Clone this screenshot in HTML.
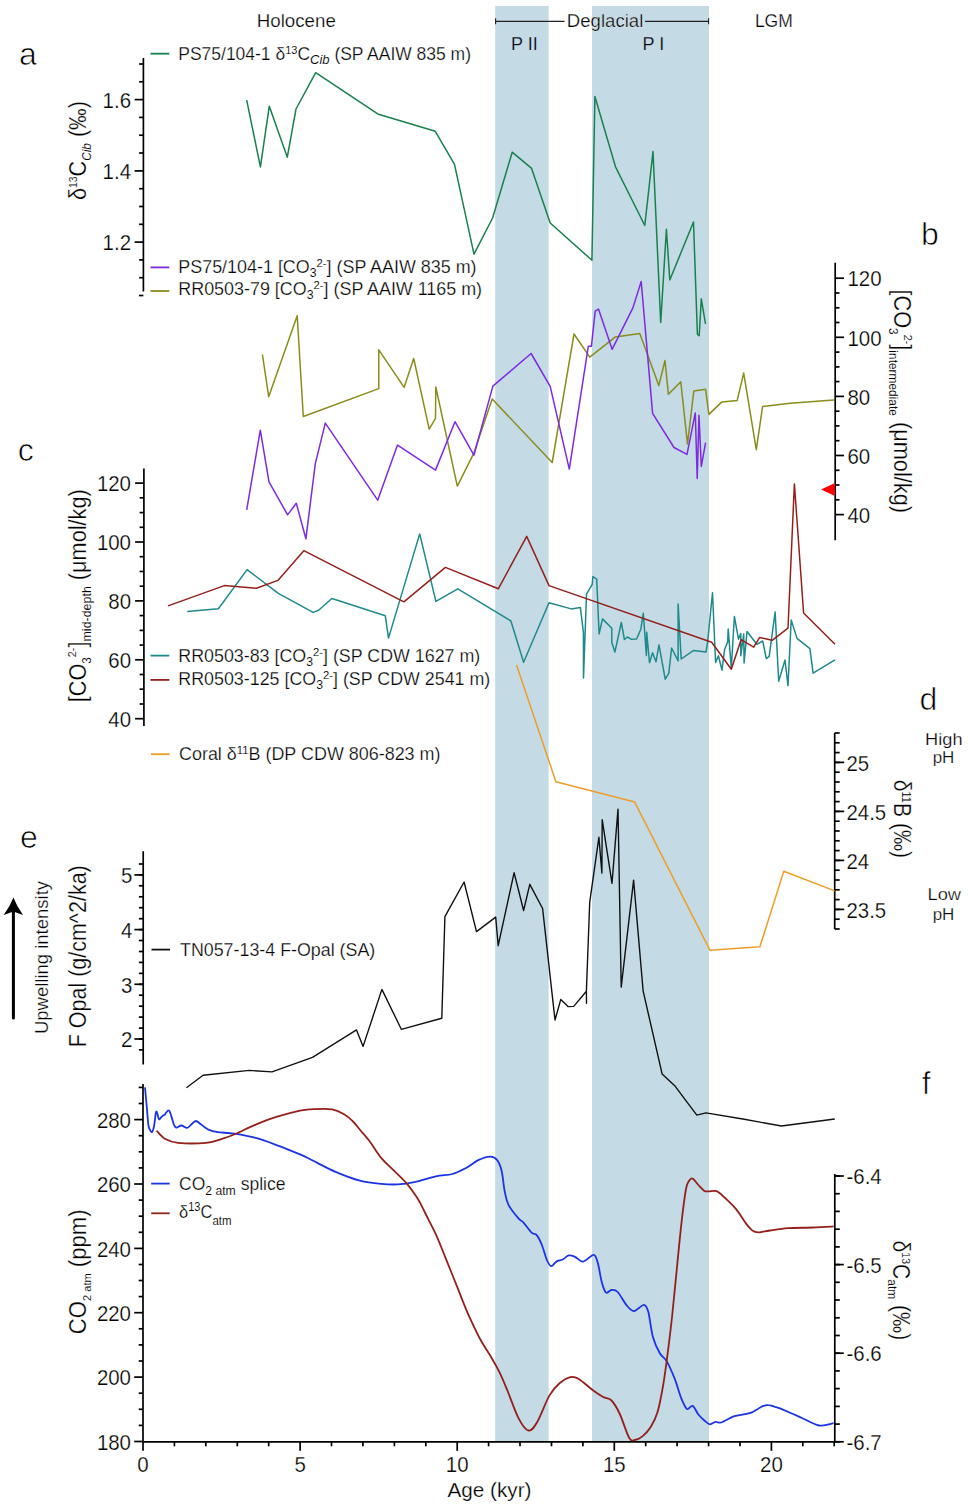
<!DOCTYPE html>
<html><head><meta charset="utf-8"><style>
html,body{margin:0;padding:0;background:#fff;}
svg{display:block;font-family:"Liberation Sans",sans-serif;}
text{stroke:#fff;stroke-width:0.25px;}
text.inb{stroke:#c4dae5;}
text.pl{stroke-width:0.7px;}
tspan[font-size]{stroke-width:0.1px;}
</style></head><body>
<svg width="968" height="1505" viewBox="0 0 968 1505">
<rect width="968" height="1505" fill="#fff"/>
<rect x="495.2" y="6" width="53.4" height="1436" fill="#c4dae5"/>
<rect x="592" y="6" width="117" height="1436" fill="#c4dae5"/>
<line x1="143.4" y1="58.0" x2="143.4" y2="291.5" stroke="#000" stroke-width="1.7"/>
<line x1="143.4" y1="99.6" x2="134.6" y2="99.6" stroke="#000" stroke-width="1.7"/>
<line x1="143.4" y1="170.9" x2="134.6" y2="170.9" stroke="#000" stroke-width="1.7"/>
<line x1="143.4" y1="242.1" x2="134.6" y2="242.1" stroke="#000" stroke-width="1.7"/>
<line x1="143.4" y1="64.0" x2="139.1" y2="64.0" stroke="#000" stroke-width="1.7"/>
<line x1="143.4" y1="81.8" x2="139.1" y2="81.8" stroke="#000" stroke-width="1.7"/>
<line x1="143.4" y1="117.4" x2="139.1" y2="117.4" stroke="#000" stroke-width="1.7"/>
<line x1="143.4" y1="135.2" x2="139.1" y2="135.2" stroke="#000" stroke-width="1.7"/>
<line x1="143.4" y1="153.0" x2="139.1" y2="153.0" stroke="#000" stroke-width="1.7"/>
<line x1="143.4" y1="188.7" x2="139.1" y2="188.7" stroke="#000" stroke-width="1.7"/>
<line x1="143.4" y1="206.5" x2="139.1" y2="206.5" stroke="#000" stroke-width="1.7"/>
<line x1="143.4" y1="224.3" x2="139.1" y2="224.3" stroke="#000" stroke-width="1.7"/>
<line x1="143.4" y1="259.9" x2="139.1" y2="259.9" stroke="#000" stroke-width="1.7"/>
<line x1="143.4" y1="277.7" x2="139.1" y2="277.7" stroke="#000" stroke-width="1.7"/>
<line x1="143.4" y1="295.5" x2="139.0" y2="295.5" stroke="#000" stroke-width="1.7"/>
<line x1="835.2" y1="262.7" x2="835.2" y2="540.3" stroke="#000" stroke-width="1.7"/>
<line x1="835.2" y1="278.2" x2="844.0" y2="278.2" stroke="#000" stroke-width="1.7"/>
<line x1="835.2" y1="337.3" x2="844.0" y2="337.3" stroke="#000" stroke-width="1.7"/>
<line x1="835.2" y1="396.4" x2="844.0" y2="396.4" stroke="#000" stroke-width="1.7"/>
<line x1="835.2" y1="455.5" x2="844.0" y2="455.5" stroke="#000" stroke-width="1.7"/>
<line x1="835.2" y1="514.6" x2="844.0" y2="514.6" stroke="#000" stroke-width="1.7"/>
<line x1="835.2" y1="293.0" x2="839.5" y2="293.0" stroke="#000" stroke-width="1.7"/>
<line x1="835.2" y1="307.8" x2="839.5" y2="307.8" stroke="#000" stroke-width="1.7"/>
<line x1="835.2" y1="322.5" x2="839.5" y2="322.5" stroke="#000" stroke-width="1.7"/>
<line x1="835.2" y1="352.1" x2="839.5" y2="352.1" stroke="#000" stroke-width="1.7"/>
<line x1="835.2" y1="366.9" x2="839.5" y2="366.9" stroke="#000" stroke-width="1.7"/>
<line x1="835.2" y1="381.6" x2="839.5" y2="381.6" stroke="#000" stroke-width="1.7"/>
<line x1="835.2" y1="411.2" x2="839.5" y2="411.2" stroke="#000" stroke-width="1.7"/>
<line x1="835.2" y1="425.9" x2="839.5" y2="425.9" stroke="#000" stroke-width="1.7"/>
<line x1="835.2" y1="440.7" x2="839.5" y2="440.7" stroke="#000" stroke-width="1.7"/>
<line x1="835.2" y1="470.3" x2="839.5" y2="470.3" stroke="#000" stroke-width="1.7"/>
<line x1="835.2" y1="485.0" x2="839.5" y2="485.0" stroke="#000" stroke-width="1.7"/>
<line x1="835.2" y1="499.8" x2="839.5" y2="499.8" stroke="#000" stroke-width="1.7"/>
<line x1="143.9" y1="468.4" x2="143.9" y2="726.0" stroke="#000" stroke-width="1.7"/>
<line x1="143.9" y1="483.1" x2="135.1" y2="483.1" stroke="#000" stroke-width="1.7"/>
<line x1="143.9" y1="542.0" x2="135.1" y2="542.0" stroke="#000" stroke-width="1.7"/>
<line x1="143.9" y1="600.9" x2="135.1" y2="600.9" stroke="#000" stroke-width="1.7"/>
<line x1="143.9" y1="659.8" x2="135.1" y2="659.8" stroke="#000" stroke-width="1.7"/>
<line x1="143.9" y1="718.7" x2="135.1" y2="718.7" stroke="#000" stroke-width="1.7"/>
<line x1="143.9" y1="497.8" x2="139.6" y2="497.8" stroke="#000" stroke-width="1.7"/>
<line x1="143.9" y1="512.6" x2="139.6" y2="512.6" stroke="#000" stroke-width="1.7"/>
<line x1="143.9" y1="527.3" x2="139.6" y2="527.3" stroke="#000" stroke-width="1.7"/>
<line x1="143.9" y1="556.7" x2="139.6" y2="556.7" stroke="#000" stroke-width="1.7"/>
<line x1="143.9" y1="571.5" x2="139.6" y2="571.5" stroke="#000" stroke-width="1.7"/>
<line x1="143.9" y1="586.2" x2="139.6" y2="586.2" stroke="#000" stroke-width="1.7"/>
<line x1="143.9" y1="615.6" x2="139.6" y2="615.6" stroke="#000" stroke-width="1.7"/>
<line x1="143.9" y1="630.4" x2="139.6" y2="630.4" stroke="#000" stroke-width="1.7"/>
<line x1="143.9" y1="645.1" x2="139.6" y2="645.1" stroke="#000" stroke-width="1.7"/>
<line x1="143.9" y1="674.5" x2="139.6" y2="674.5" stroke="#000" stroke-width="1.7"/>
<line x1="143.9" y1="689.2" x2="139.6" y2="689.2" stroke="#000" stroke-width="1.7"/>
<line x1="143.9" y1="704.0" x2="139.6" y2="704.0" stroke="#000" stroke-width="1.7"/>
<line x1="834.7" y1="733.0" x2="834.7" y2="929.0" stroke="#000" stroke-width="1.7"/>
<line x1="834.7" y1="762.4" x2="844.2" y2="762.4" stroke="#000" stroke-width="1.7"/>
<line x1="834.7" y1="811.4" x2="844.2" y2="811.4" stroke="#000" stroke-width="1.7"/>
<line x1="834.7" y1="860.4" x2="844.2" y2="860.4" stroke="#000" stroke-width="1.7"/>
<line x1="834.7" y1="909.4" x2="844.2" y2="909.4" stroke="#000" stroke-width="1.7"/>
<line x1="834.7" y1="733.0" x2="839.7" y2="733.0" stroke="#000" stroke-width="1.7"/>
<line x1="834.7" y1="742.8" x2="839.7" y2="742.8" stroke="#000" stroke-width="1.7"/>
<line x1="834.7" y1="752.6" x2="839.7" y2="752.6" stroke="#000" stroke-width="1.7"/>
<line x1="834.7" y1="762.4" x2="839.7" y2="762.4" stroke="#000" stroke-width="1.7"/>
<line x1="834.7" y1="772.2" x2="839.7" y2="772.2" stroke="#000" stroke-width="1.7"/>
<line x1="834.7" y1="782.0" x2="839.7" y2="782.0" stroke="#000" stroke-width="1.7"/>
<line x1="834.7" y1="791.8" x2="839.7" y2="791.8" stroke="#000" stroke-width="1.7"/>
<line x1="834.7" y1="801.6" x2="839.7" y2="801.6" stroke="#000" stroke-width="1.7"/>
<line x1="834.7" y1="811.4" x2="839.7" y2="811.4" stroke="#000" stroke-width="1.7"/>
<line x1="834.7" y1="821.2" x2="839.7" y2="821.2" stroke="#000" stroke-width="1.7"/>
<line x1="834.7" y1="831.0" x2="839.7" y2="831.0" stroke="#000" stroke-width="1.7"/>
<line x1="834.7" y1="840.8" x2="839.7" y2="840.8" stroke="#000" stroke-width="1.7"/>
<line x1="834.7" y1="850.6" x2="839.7" y2="850.6" stroke="#000" stroke-width="1.7"/>
<line x1="834.7" y1="860.4" x2="839.7" y2="860.4" stroke="#000" stroke-width="1.7"/>
<line x1="834.7" y1="870.2" x2="839.7" y2="870.2" stroke="#000" stroke-width="1.7"/>
<line x1="834.7" y1="880.0" x2="839.7" y2="880.0" stroke="#000" stroke-width="1.7"/>
<line x1="834.7" y1="889.8" x2="839.7" y2="889.8" stroke="#000" stroke-width="1.7"/>
<line x1="834.7" y1="899.6" x2="839.7" y2="899.6" stroke="#000" stroke-width="1.7"/>
<line x1="834.7" y1="909.4" x2="839.7" y2="909.4" stroke="#000" stroke-width="1.7"/>
<line x1="834.7" y1="919.2" x2="839.7" y2="919.2" stroke="#000" stroke-width="1.7"/>
<line x1="834.7" y1="929.0" x2="839.7" y2="929.0" stroke="#000" stroke-width="1.7"/>
<line x1="143.2" y1="851.2" x2="143.2" y2="1064.5" stroke="#000" stroke-width="1.7"/>
<line x1="143.2" y1="874.9" x2="134.4" y2="874.9" stroke="#000" stroke-width="1.7"/>
<line x1="143.2" y1="929.6" x2="134.4" y2="929.6" stroke="#000" stroke-width="1.7"/>
<line x1="143.2" y1="984.3" x2="134.4" y2="984.3" stroke="#000" stroke-width="1.7"/>
<line x1="143.2" y1="1039.0" x2="134.4" y2="1039.0" stroke="#000" stroke-width="1.7"/>
<line x1="143.2" y1="864.0" x2="138.9" y2="864.0" stroke="#000" stroke-width="1.7"/>
<line x1="143.2" y1="874.9" x2="138.9" y2="874.9" stroke="#000" stroke-width="1.7"/>
<line x1="143.2" y1="885.8" x2="138.9" y2="885.8" stroke="#000" stroke-width="1.7"/>
<line x1="143.2" y1="896.8" x2="138.9" y2="896.8" stroke="#000" stroke-width="1.7"/>
<line x1="143.2" y1="907.7" x2="138.9" y2="907.7" stroke="#000" stroke-width="1.7"/>
<line x1="143.2" y1="918.7" x2="138.9" y2="918.7" stroke="#000" stroke-width="1.7"/>
<line x1="143.2" y1="929.6" x2="138.9" y2="929.6" stroke="#000" stroke-width="1.7"/>
<line x1="143.2" y1="940.5" x2="138.9" y2="940.5" stroke="#000" stroke-width="1.7"/>
<line x1="143.2" y1="951.5" x2="138.9" y2="951.5" stroke="#000" stroke-width="1.7"/>
<line x1="143.2" y1="962.4" x2="138.9" y2="962.4" stroke="#000" stroke-width="1.7"/>
<line x1="143.2" y1="973.4" x2="138.9" y2="973.4" stroke="#000" stroke-width="1.7"/>
<line x1="143.2" y1="984.3" x2="138.9" y2="984.3" stroke="#000" stroke-width="1.7"/>
<line x1="143.2" y1="995.2" x2="138.9" y2="995.2" stroke="#000" stroke-width="1.7"/>
<line x1="143.2" y1="1006.2" x2="138.9" y2="1006.2" stroke="#000" stroke-width="1.7"/>
<line x1="143.2" y1="1017.1" x2="138.9" y2="1017.1" stroke="#000" stroke-width="1.7"/>
<line x1="143.2" y1="1028.1" x2="138.9" y2="1028.1" stroke="#000" stroke-width="1.7"/>
<line x1="143.2" y1="1039.0" x2="138.9" y2="1039.0" stroke="#000" stroke-width="1.7"/>
<line x1="143.2" y1="1049.9" x2="138.9" y2="1049.9" stroke="#000" stroke-width="1.7"/>
<line x1="143.0" y1="1084.0" x2="143.0" y2="1441.8" stroke="#000" stroke-width="1.7"/>
<line x1="143.0" y1="1119.6" x2="134.2" y2="1119.6" stroke="#000" stroke-width="1.7"/>
<line x1="143.0" y1="1184.0" x2="134.2" y2="1184.0" stroke="#000" stroke-width="1.7"/>
<line x1="143.0" y1="1248.4" x2="134.2" y2="1248.4" stroke="#000" stroke-width="1.7"/>
<line x1="143.0" y1="1312.7" x2="134.2" y2="1312.7" stroke="#000" stroke-width="1.7"/>
<line x1="143.0" y1="1377.1" x2="134.2" y2="1377.1" stroke="#000" stroke-width="1.7"/>
<line x1="143.0" y1="1441.5" x2="134.2" y2="1441.5" stroke="#000" stroke-width="1.7"/>
<line x1="143.0" y1="1425.4" x2="138.7" y2="1425.4" stroke="#000" stroke-width="1.7"/>
<line x1="143.0" y1="1409.3" x2="138.7" y2="1409.3" stroke="#000" stroke-width="1.7"/>
<line x1="143.0" y1="1393.2" x2="138.7" y2="1393.2" stroke="#000" stroke-width="1.7"/>
<line x1="143.0" y1="1361.0" x2="138.7" y2="1361.0" stroke="#000" stroke-width="1.7"/>
<line x1="143.0" y1="1344.9" x2="138.7" y2="1344.9" stroke="#000" stroke-width="1.7"/>
<line x1="143.0" y1="1328.8" x2="138.7" y2="1328.8" stroke="#000" stroke-width="1.7"/>
<line x1="143.0" y1="1296.6" x2="138.7" y2="1296.6" stroke="#000" stroke-width="1.7"/>
<line x1="143.0" y1="1280.5" x2="138.7" y2="1280.5" stroke="#000" stroke-width="1.7"/>
<line x1="143.0" y1="1264.5" x2="138.7" y2="1264.5" stroke="#000" stroke-width="1.7"/>
<line x1="143.0" y1="1232.3" x2="138.7" y2="1232.3" stroke="#000" stroke-width="1.7"/>
<line x1="143.0" y1="1216.2" x2="138.7" y2="1216.2" stroke="#000" stroke-width="1.7"/>
<line x1="143.0" y1="1200.1" x2="138.7" y2="1200.1" stroke="#000" stroke-width="1.7"/>
<line x1="143.0" y1="1167.9" x2="138.7" y2="1167.9" stroke="#000" stroke-width="1.7"/>
<line x1="143.0" y1="1151.8" x2="138.7" y2="1151.8" stroke="#000" stroke-width="1.7"/>
<line x1="143.0" y1="1135.7" x2="138.7" y2="1135.7" stroke="#000" stroke-width="1.7"/>
<line x1="143.0" y1="1103.5" x2="138.7" y2="1103.5" stroke="#000" stroke-width="1.7"/>
<line x1="143.0" y1="1087.4" x2="138.7" y2="1087.4" stroke="#000" stroke-width="1.7"/>
<line x1="834.8" y1="1174.0" x2="834.8" y2="1441.8" stroke="#000" stroke-width="1.7"/>
<line x1="834.8" y1="1176.0" x2="843.8" y2="1176.0" stroke="#000" stroke-width="1.7"/>
<line x1="834.8" y1="1264.6" x2="843.8" y2="1264.6" stroke="#000" stroke-width="1.7"/>
<line x1="834.8" y1="1353.2" x2="843.8" y2="1353.2" stroke="#000" stroke-width="1.7"/>
<line x1="834.8" y1="1441.8" x2="843.8" y2="1441.8" stroke="#000" stroke-width="1.7"/>
<line x1="834.8" y1="1441.8" x2="839.8" y2="1441.8" stroke="#000" stroke-width="1.7"/>
<line x1="834.8" y1="1424.1" x2="839.8" y2="1424.1" stroke="#000" stroke-width="1.7"/>
<line x1="834.8" y1="1406.4" x2="839.8" y2="1406.4" stroke="#000" stroke-width="1.7"/>
<line x1="834.8" y1="1388.6" x2="839.8" y2="1388.6" stroke="#000" stroke-width="1.7"/>
<line x1="834.8" y1="1370.9" x2="839.8" y2="1370.9" stroke="#000" stroke-width="1.7"/>
<line x1="834.8" y1="1353.2" x2="839.8" y2="1353.2" stroke="#000" stroke-width="1.7"/>
<line x1="834.8" y1="1335.5" x2="839.8" y2="1335.5" stroke="#000" stroke-width="1.7"/>
<line x1="834.8" y1="1317.8" x2="839.8" y2="1317.8" stroke="#000" stroke-width="1.7"/>
<line x1="834.8" y1="1300.0" x2="839.8" y2="1300.0" stroke="#000" stroke-width="1.7"/>
<line x1="834.8" y1="1282.3" x2="839.8" y2="1282.3" stroke="#000" stroke-width="1.7"/>
<line x1="834.8" y1="1264.6" x2="839.8" y2="1264.6" stroke="#000" stroke-width="1.7"/>
<line x1="834.8" y1="1246.9" x2="839.8" y2="1246.9" stroke="#000" stroke-width="1.7"/>
<line x1="834.8" y1="1229.2" x2="839.8" y2="1229.2" stroke="#000" stroke-width="1.7"/>
<line x1="834.8" y1="1211.4" x2="839.8" y2="1211.4" stroke="#000" stroke-width="1.7"/>
<line x1="834.8" y1="1193.7" x2="839.8" y2="1193.7" stroke="#000" stroke-width="1.7"/>
<line x1="834.8" y1="1176.0" x2="839.8" y2="1176.0" stroke="#000" stroke-width="1.7"/>
<line x1="142.0" y1="1441.8" x2="835.5" y2="1441.8" stroke="#000" stroke-width="1.7"/>
<line x1="143.0" y1="1441.8" x2="143.0" y2="1450.8" stroke="#000" stroke-width="1.7"/>
<line x1="174.4" y1="1441.8" x2="174.4" y2="1446.3" stroke="#000" stroke-width="1.7"/>
<line x1="205.8" y1="1441.8" x2="205.8" y2="1446.3" stroke="#000" stroke-width="1.7"/>
<line x1="237.3" y1="1441.8" x2="237.3" y2="1446.3" stroke="#000" stroke-width="1.7"/>
<line x1="268.7" y1="1441.8" x2="268.7" y2="1446.3" stroke="#000" stroke-width="1.7"/>
<line x1="300.1" y1="1441.8" x2="300.1" y2="1450.8" stroke="#000" stroke-width="1.7"/>
<line x1="331.5" y1="1441.8" x2="331.5" y2="1446.3" stroke="#000" stroke-width="1.7"/>
<line x1="362.9" y1="1441.8" x2="362.9" y2="1446.3" stroke="#000" stroke-width="1.7"/>
<line x1="394.4" y1="1441.8" x2="394.4" y2="1446.3" stroke="#000" stroke-width="1.7"/>
<line x1="425.8" y1="1441.8" x2="425.8" y2="1446.3" stroke="#000" stroke-width="1.7"/>
<line x1="457.2" y1="1441.8" x2="457.2" y2="1450.8" stroke="#000" stroke-width="1.7"/>
<line x1="488.6" y1="1441.8" x2="488.6" y2="1446.3" stroke="#000" stroke-width="1.7"/>
<line x1="520.0" y1="1441.8" x2="520.0" y2="1446.3" stroke="#000" stroke-width="1.7"/>
<line x1="551.5" y1="1441.8" x2="551.5" y2="1446.3" stroke="#000" stroke-width="1.7"/>
<line x1="582.9" y1="1441.8" x2="582.9" y2="1446.3" stroke="#000" stroke-width="1.7"/>
<line x1="614.3" y1="1441.8" x2="614.3" y2="1450.8" stroke="#000" stroke-width="1.7"/>
<line x1="645.7" y1="1441.8" x2="645.7" y2="1446.3" stroke="#000" stroke-width="1.7"/>
<line x1="677.1" y1="1441.8" x2="677.1" y2="1446.3" stroke="#000" stroke-width="1.7"/>
<line x1="708.6" y1="1441.8" x2="708.6" y2="1446.3" stroke="#000" stroke-width="1.7"/>
<line x1="740.0" y1="1441.8" x2="740.0" y2="1446.3" stroke="#000" stroke-width="1.7"/>
<line x1="771.4" y1="1441.8" x2="771.4" y2="1450.8" stroke="#000" stroke-width="1.7"/>
<line x1="802.8" y1="1441.8" x2="802.8" y2="1446.3" stroke="#000" stroke-width="1.7"/>
<line x1="834.2" y1="1441.8" x2="834.2" y2="1446.3" stroke="#000" stroke-width="1.7"/>
<text x="131.0" y="107.8" font-size="21.5" text-anchor="end" fill="#000" textLength="28.4" lengthAdjust="spacingAndGlyphs">1.6</text>
<text x="131.0" y="179.1" font-size="21.5" text-anchor="end" fill="#000" textLength="28.4" lengthAdjust="spacingAndGlyphs">1.4</text>
<text x="131.0" y="250.3" font-size="21.5" text-anchor="end" fill="#000" textLength="28.4" lengthAdjust="spacingAndGlyphs">1.2</text>
<text x="847.5" y="286.4" font-size="21.5" text-anchor="start" fill="#000" textLength="34.1" lengthAdjust="spacingAndGlyphs">120</text>
<text x="847.5" y="345.5" font-size="21.5" text-anchor="start" fill="#000" textLength="34.1" lengthAdjust="spacingAndGlyphs">100</text>
<text x="847.5" y="404.6" font-size="21.5" text-anchor="start" fill="#000" textLength="22.7" lengthAdjust="spacingAndGlyphs">80</text>
<text x="847.5" y="463.7" font-size="21.5" text-anchor="start" fill="#000" textLength="22.7" lengthAdjust="spacingAndGlyphs">60</text>
<text x="847.5" y="522.8" font-size="21.5" text-anchor="start" fill="#000" textLength="22.7" lengthAdjust="spacingAndGlyphs">40</text>
<text x="131.0" y="491.3" font-size="21.5" text-anchor="end" fill="#000" textLength="34.1" lengthAdjust="spacingAndGlyphs">120</text>
<text x="131.0" y="550.2" font-size="21.5" text-anchor="end" fill="#000" textLength="34.1" lengthAdjust="spacingAndGlyphs">100</text>
<text x="131.0" y="609.1" font-size="21.5" text-anchor="end" fill="#000" textLength="22.7" lengthAdjust="spacingAndGlyphs">80</text>
<text x="131.0" y="668.0" font-size="21.5" text-anchor="end" fill="#000" textLength="22.7" lengthAdjust="spacingAndGlyphs">60</text>
<text x="131.0" y="726.9" font-size="21.5" text-anchor="end" fill="#000" textLength="22.7" lengthAdjust="spacingAndGlyphs">40</text>
<text x="846.5" y="770.6" font-size="21.5" text-anchor="start" fill="#000" textLength="22.7" lengthAdjust="spacingAndGlyphs">25</text>
<text x="846.5" y="819.6" font-size="21.5" text-anchor="start" fill="#000" textLength="39.7" lengthAdjust="spacingAndGlyphs">24.5</text>
<text x="846.5" y="868.6" font-size="21.5" text-anchor="start" fill="#000" textLength="22.7" lengthAdjust="spacingAndGlyphs">24</text>
<text x="846.5" y="917.6" font-size="21.5" text-anchor="start" fill="#000" textLength="39.7" lengthAdjust="spacingAndGlyphs">23.5</text>
<text x="132.5" y="883.1" font-size="21.5" text-anchor="end" fill="#000" textLength="11.4" lengthAdjust="spacingAndGlyphs">5</text>
<text x="132.5" y="937.8" font-size="21.5" text-anchor="end" fill="#000" textLength="11.4" lengthAdjust="spacingAndGlyphs">4</text>
<text x="132.5" y="992.5" font-size="21.5" text-anchor="end" fill="#000" textLength="11.4" lengthAdjust="spacingAndGlyphs">3</text>
<text x="132.5" y="1047.2" font-size="21.5" text-anchor="end" fill="#000" textLength="11.4" lengthAdjust="spacingAndGlyphs">2</text>
<text x="131.0" y="1127.8" font-size="21.5" text-anchor="end" fill="#000" textLength="34.1" lengthAdjust="spacingAndGlyphs">280</text>
<text x="131.0" y="1192.2" font-size="21.5" text-anchor="end" fill="#000" textLength="34.1" lengthAdjust="spacingAndGlyphs">260</text>
<text x="131.0" y="1256.6" font-size="21.5" text-anchor="end" fill="#000" textLength="34.1" lengthAdjust="spacingAndGlyphs">240</text>
<text x="131.0" y="1320.9" font-size="21.5" text-anchor="end" fill="#000" textLength="34.1" lengthAdjust="spacingAndGlyphs">220</text>
<text x="131.0" y="1385.3" font-size="21.5" text-anchor="end" fill="#000" textLength="34.1" lengthAdjust="spacingAndGlyphs">200</text>
<text x="131.0" y="1449.7" font-size="21.5" text-anchor="end" fill="#000" textLength="34.1" lengthAdjust="spacingAndGlyphs">180</text>
<text x="846.5" y="1184.2" font-size="21.5" text-anchor="start" fill="#000" textLength="35.2" lengthAdjust="spacingAndGlyphs">-6.4</text>
<text x="846.5" y="1272.8" font-size="21.5" text-anchor="start" fill="#000" textLength="35.2" lengthAdjust="spacingAndGlyphs">-6.5</text>
<text x="846.5" y="1361.4" font-size="21.5" text-anchor="start" fill="#000" textLength="35.2" lengthAdjust="spacingAndGlyphs">-6.6</text>
<text x="846.5" y="1450.0" font-size="21.5" text-anchor="start" fill="#000" textLength="35.2" lengthAdjust="spacingAndGlyphs">-6.7</text>
<text x="143.0" y="1472.0" font-size="21.5" text-anchor="middle" fill="#000" textLength="11.4" lengthAdjust="spacingAndGlyphs">0</text>
<text x="300.1" y="1472.0" font-size="21.5" text-anchor="middle" fill="#000" textLength="11.4" lengthAdjust="spacingAndGlyphs">5</text>
<text x="457.2" y="1472.0" font-size="21.5" text-anchor="middle" fill="#000" textLength="22.7" lengthAdjust="spacingAndGlyphs">10</text>
<text x="614.3" y="1472.0" font-size="21.5" text-anchor="middle" fill="#000" textLength="22.7" lengthAdjust="spacingAndGlyphs">15</text>
<text x="771.4" y="1472.0" font-size="21.5" text-anchor="middle" fill="#000" textLength="22.7" lengthAdjust="spacingAndGlyphs">20</text>
<polyline points="246.7,100.2 260.4,166.9 269.3,106.2 287.3,157.2 296.0,109.0 315.7,72.7 378.5,114.3 435.3,131.3 454.5,164.3 474.0,254.2 492.6,218.0 512.2,152.2 531.6,168.4 550.2,223.0 591.9,260.2 594.9,96.5 615.5,166.8 644.8,225.5 653.0,151.6 660.7,322.5 666.4,229.3 669.8,280.0 693.5,222.0 697.4,334.3 699.2,335.7 701.3,298.8 705.5,323.9" fill="none" stroke="rgb(25,128,78)" stroke-width="1.5" stroke-linejoin="round" />
<polyline points="262.4,354.5 268.7,396.7 297.2,315.7 303.3,416.5 378.8,388.6 378.8,349.8 404.1,387.4 413.7,358.5 429.2,429.1 435.5,418.3 435.8,387.0 457.3,486.1 473.5,453.9 492.2,399.0 552.2,462.5 574.0,334.0 589.8,357.2 615.4,336.9 639.8,333.6 658.8,385.6 665.0,360.5 668.4,394.3 680.8,381.8 687.5,444.1 693.8,391.1 705.6,389.3 708.9,414.4 721.9,401.9 737.2,400.4 743.7,373.1 756.3,449.7 762.6,406.4 790.2,403.2 833.9,399.9" fill="none" stroke="rgb(138,140,28)" stroke-width="1.5" stroke-linejoin="round" />
<polyline points="246.7,509.9 260.3,430.2 269.0,481.8 287.6,514.9 296.3,503.3 305.9,538.8 315.3,463.6 325.3,423.1 377.7,500.2 397.5,445.1 435.5,470.1 455.0,421.7 473.9,455.2 492.9,386.1 531.1,353.5 550.2,386.4 569.3,469.1 588.3,346.3 591.4,346.3 595.2,311.2 598.5,309.1 612.1,349.3 632.9,307.9 641.2,281.5 652.6,413.4 674.0,447.5 687.0,454.4 695.3,412.9 697.2,478.5 699.0,415.3 701.3,466.4 705.6,442.6" fill="none" stroke="rgb(126,42,226)" stroke-width="1.5" stroke-linejoin="round" />
<polyline points="187.2,611.5 218.4,608.7 247.1,569.6 278.3,593.4 313.1,612.4 318.6,610.2 331.9,598.5 385.3,615.8 388.5,638.1 419.7,533.9 435.9,601.4 457.8,588.8 510.9,621.0 523.6,662.2 549.0,602.7 571.3,608.9 580.4,607.6 583.4,632.3 583.5,677.9 586.5,594.1 592.2,584.3 592.9,576.5 596.7,579.1 599.1,633.9 602.5,618.9 611.8,628.2 611.8,642.6 614.9,652.1 621.3,622.5 624.4,639.5 627.3,637.0 631.5,639.3 636.6,639.0 640.8,629.2 643.3,613.2 646.4,655.6 646.7,632.3 649.5,662.8 652.6,652.8 656.0,661.8 659.0,644.9 665.2,679.2 668.8,673.3 671.6,648.0 678.1,660.9 678.1,604.1 681.2,659.0 693.6,650.4 706.0,652.1 707.7,641.3 712.5,592.7 715.6,662.5 718.4,655.7 722.0,670.2 724.6,649.5 727.7,641.8 728.2,628.9 731.3,668.1 734.4,616.5 738.5,639.2 740.8,633.5 740.8,655.7 743.7,634.0 744.1,663.0 747.0,631.5 756.8,644.3 762.7,641.0 766.3,658.6 769.2,656.4 775.1,612.1 778.7,681.3 785.0,660.0 788.0,685.6 791.2,619.9 797.0,638.4 809.9,648.7 813.1,673.2 835.0,659.8" fill="none" stroke="rgb(30,138,140)" stroke-width="1.5" stroke-linejoin="round" />
<polyline points="168.0,605.9 224.4,585.6 256.4,588.2 277.9,580.4 303.8,550.7 403.9,601.8 445.4,567.4 498.3,588.8 526.7,536.4 549.0,585.6 711.7,642.3 731.3,669.2 741.1,639.7 753.7,647.2 759.7,637.4 772.2,640.3 788.0,628.2 794.4,483.9 803.6,613.0 835.0,644.3" fill="none" stroke="rgb(148,32,28)" stroke-width="1.5" stroke-linejoin="round" />
<polyline points="516.5,664.9 555.9,781.7 634.7,802.1 710.0,950.3 759.9,946.8 783.8,871.3 834.7,890.9" fill="none" stroke="rgb(238,158,40)" stroke-width="1.5" stroke-linejoin="round" />
<polyline points="186.4,1087.8 203.1,1075.3 249.4,1070.4 272.0,1071.9 312.5,1057.4 356.5,1029.9 363.1,1046.4 381.9,989.4 401.3,1029.3 441.8,1018.2 444.9,916.7 464.1,882.0 476.5,931.6 495.7,917.1 498.2,945.7 514.1,872.7 523.6,910.5 529.8,884.3 542.6,908.5 555.0,1020.0 560.8,999.4 568.0,1006.6 573.7,1006.4 586.4,991.2 586.5,1003.3 586.4,991.2 589.7,902.3 598.9,837.3 601.9,873.1 602.2,819.7 612.0,883.3 618.0,809.1 621.2,987.1 633.6,880.1 643.1,990.8 662.1,1073.9 674.5,1085.4 696.8,1115.1 705.9,1112.9 742.8,1119.0 781.4,1126.0 834.8,1119.0" fill="none" stroke="#111" stroke-width="1.4" stroke-linejoin="round" />
<path d="M145.0,1087.4 C145.3,1090.3 146.0,1098.6 146.6,1104.8 C147.2,1111.0 147.8,1120.5 148.3,1124.6 C148.9,1128.7 149.3,1128.4 149.9,1129.6 C150.5,1130.8 151.4,1132.5 152.1,1132.0 C152.8,1131.5 153.3,1129.6 154.0,1126.3 C154.7,1123.0 155.4,1114.3 156.0,1112.2 C156.6,1110.1 156.9,1112.7 157.4,1113.9 C157.9,1115.1 158.4,1118.8 159.0,1119.3 C159.6,1119.8 160.5,1117.8 161.2,1117.2 C161.9,1116.6 162.5,1115.9 163.1,1115.5 C163.7,1115.1 164.3,1115.2 164.8,1114.7 C165.3,1114.2 165.4,1113.4 166.1,1112.7 C166.8,1112.0 168.0,1110.0 168.9,1110.6 C169.8,1111.2 170.6,1114.1 171.4,1116.4 C172.2,1118.7 173.1,1122.7 173.9,1124.6 C174.7,1126.5 175.2,1127.4 176.4,1127.6 C177.6,1127.8 179.5,1125.5 181.3,1125.5 C183.1,1125.5 185.4,1128.1 187.1,1127.9 C188.8,1127.8 189.7,1125.8 191.2,1124.6 C192.7,1123.4 194.2,1121.0 195.9,1121.0 C197.6,1121.0 199.2,1123.2 201.2,1124.6 C203.2,1126.0 205.1,1128.0 207.8,1129.3 C210.6,1130.5 213.3,1131.4 217.7,1132.1 C222.1,1132.8 227.9,1132.7 234.2,1133.7 C240.5,1134.7 248.5,1136.0 255.7,1137.9 C262.9,1139.8 269.8,1142.5 277.2,1145.3 C284.6,1148.0 294.1,1151.9 300.0,1154.4 C305.9,1156.9 306.8,1157.6 312.7,1160.5 C318.6,1163.4 327.6,1168.5 335.5,1171.8 C343.4,1175.1 352.2,1178.6 359.8,1180.6 C367.4,1182.6 375.0,1183.3 381.3,1183.9 C387.6,1184.5 392.4,1184.7 397.9,1184.4 C403.4,1184.1 408.1,1183.5 414.4,1182.2 C420.7,1180.9 429.6,1177.8 435.9,1176.4 C442.2,1175.0 447.4,1175.4 452.4,1174.0 C457.3,1172.6 461.2,1170.5 465.6,1168.2 C470.0,1165.9 474.7,1161.8 478.8,1159.9 C482.9,1158.0 487.4,1156.6 490.4,1156.6 C493.4,1156.6 495.1,1157.6 497.0,1159.9 C498.9,1162.2 500.3,1165.5 501.6,1170.7 C502.9,1175.9 503.5,1185.5 504.7,1191.3 C505.9,1197.1 506.4,1200.8 508.8,1205.4 C511.2,1210.1 516.8,1216.4 519.2,1219.2 C521.6,1222.0 521.2,1220.1 523.3,1222.3 C525.4,1224.5 529.4,1230.5 531.6,1232.6 C533.8,1234.7 535.0,1233.0 536.7,1235.1 C538.4,1237.2 540.2,1240.8 541.9,1245.0 C543.6,1249.2 545.5,1257.0 547.1,1260.5 C548.7,1264.0 549.7,1265.9 551.2,1266.1 C552.8,1266.3 554.5,1262.7 556.4,1261.6 C558.3,1260.5 560.5,1260.5 562.6,1259.5 C564.7,1258.5 566.7,1255.9 568.8,1255.4 C570.9,1255.0 572.6,1255.8 575.0,1256.8 C577.4,1257.8 580.1,1261.9 583.2,1261.6 C586.3,1261.3 591.2,1254.6 593.6,1254.8 C596.0,1255.0 596.3,1258.0 597.7,1262.6 C599.1,1267.2 600.4,1277.2 601.8,1282.2 C603.2,1287.2 604.4,1291.3 606.0,1292.6 C607.6,1293.9 609.5,1290.1 611.5,1290.0 C613.5,1289.9 615.2,1289.4 617.7,1292.0 C620.2,1294.6 624.1,1302.3 626.8,1305.5 C629.4,1308.7 631.5,1310.7 633.6,1311.1 C635.7,1311.5 637.5,1308.7 639.3,1307.7 C641.1,1306.7 643.0,1304.2 644.5,1305.0 C646.0,1305.8 647.0,1306.9 648.4,1312.3 C649.8,1317.7 651.1,1330.5 653.0,1337.3 C654.9,1344.1 657.5,1349.2 659.8,1353.2 C662.1,1357.2 664.1,1356.9 666.6,1361.1 C669.1,1365.3 672.0,1372.0 674.5,1378.2 C677.0,1384.5 679.3,1393.5 681.4,1398.6 C683.5,1403.7 685.1,1407.7 687.0,1408.9 C688.9,1410.1 690.8,1405.0 692.7,1405.9 C694.6,1406.8 696.5,1412.1 698.4,1414.5 C700.3,1416.9 702.2,1418.6 704.1,1420.2 C706.0,1421.8 707.9,1424.0 709.8,1424.3 C711.7,1424.6 713.6,1422.1 715.5,1421.8 C717.4,1421.5 718.1,1423.4 721.1,1422.5 C724.1,1421.6 729.6,1417.8 733.6,1416.4 C737.6,1415.0 741.9,1414.9 745.0,1414.2 C748.1,1413.5 750.0,1413.1 752.0,1412.3 C754.0,1411.5 755.3,1410.5 757.0,1409.5 C758.7,1408.5 760.2,1407.2 762.0,1406.5 C763.8,1405.8 765.8,1405.0 768.0,1405.1 C770.2,1405.1 773.0,1406.2 775.0,1406.8 C777.0,1407.3 775.9,1406.7 780.0,1408.4 C784.1,1410.1 793.0,1414.0 799.5,1416.8 C806.0,1419.6 813.2,1424.4 818.9,1425.5 C824.6,1426.6 831.1,1423.6 833.6,1423.2" fill="none" stroke="rgb(28,52,228)" stroke-width="1.8"/>
<path d="M156.5,1130.7 C157.9,1132.0 161.2,1136.7 164.8,1138.7 C168.4,1140.7 171.1,1142.1 178.0,1142.8 C184.9,1143.5 198.7,1143.5 206.1,1142.8 C213.5,1142.1 217.6,1140.2 222.6,1138.7 C227.6,1137.2 230.4,1136.1 235.9,1133.7 C241.4,1131.3 248.8,1127.4 255.7,1124.6 C262.6,1121.8 269.8,1119.0 277.2,1116.7 C284.6,1114.4 294.4,1111.8 300.0,1110.6 C305.6,1109.4 305.2,1109.5 310.5,1109.3 C315.8,1109.1 326.3,1108.4 332.0,1109.3 C337.7,1110.2 341.0,1112.5 344.5,1114.5 C348.0,1116.5 350.2,1118.8 353.0,1121.5 C355.8,1124.2 358.2,1127.7 361.0,1131.0 C363.8,1134.3 366.2,1136.8 369.6,1141.3 C373.0,1145.8 377.4,1153.2 381.2,1157.9 C385.0,1162.6 388.6,1165.3 392.7,1169.4 C396.8,1173.5 402.1,1178.2 406.0,1182.6 C409.9,1187.0 413.6,1192.6 415.9,1195.9 C418.2,1199.2 418.0,1198.9 420.0,1202.7 C422.0,1206.5 425.3,1213.3 428.0,1218.6 C430.7,1223.9 433.6,1229.3 436.0,1234.6 C438.4,1239.9 440.2,1244.5 442.6,1250.5 C445.0,1256.5 447.9,1263.8 450.6,1270.5 C453.3,1277.2 456.0,1283.8 458.6,1290.4 C461.2,1297.1 464.1,1304.6 466.5,1310.4 C468.9,1316.2 470.8,1319.9 473.2,1325.0 C475.6,1330.1 478.1,1335.5 481.2,1341.0 C484.3,1346.5 488.7,1352.9 491.8,1358.2 C494.9,1363.5 497.1,1367.4 499.8,1372.9 C502.5,1378.5 504.7,1384.0 507.8,1391.5 C510.9,1399.0 515.1,1411.6 518.5,1418.1 C521.9,1424.6 525.3,1429.8 528.4,1430.5 C531.5,1431.2 533.6,1428.0 537.1,1422.2 C540.6,1416.4 545.7,1401.9 549.5,1395.4 C553.3,1388.9 556.3,1386.0 559.8,1383.0 C563.2,1380.0 567.1,1377.9 570.2,1377.2 C573.3,1376.5 574.6,1376.6 578.4,1378.8 C582.2,1381.0 588.8,1387.2 592.9,1390.2 C597.0,1393.2 600.1,1395.3 603.2,1397.0 C606.3,1398.7 608.7,1397.7 611.5,1400.5 C614.3,1403.3 616.9,1407.8 619.8,1414.0 C622.7,1420.2 626.6,1433.4 629.1,1437.7 C631.6,1442.0 632.5,1440.3 634.8,1440.0 C637.1,1439.7 640.1,1438.3 642.7,1436.1 C645.4,1433.9 648.2,1431.0 650.7,1427.0 C653.2,1423.0 655.4,1419.3 657.5,1412.3 C659.6,1405.3 661.5,1394.8 663.2,1385.0 C664.9,1375.2 666.2,1365.0 667.7,1353.2 C669.2,1341.5 670.8,1328.5 672.3,1314.5 C673.8,1300.5 675.3,1284.2 676.8,1269.1 C678.3,1253.9 679.9,1236.9 681.4,1223.6 C682.9,1210.3 684.6,1196.7 685.9,1189.5 C687.2,1182.3 688.2,1182.3 689.3,1180.5 C690.4,1178.7 691.2,1177.8 692.7,1178.6 C694.2,1179.3 696.5,1183.0 698.4,1185.0 C700.3,1187.0 702.4,1189.6 704.1,1190.7 C705.8,1191.8 706.5,1191.3 708.6,1191.4 C710.7,1191.5 714.0,1190.1 716.6,1191.1 C719.2,1192.1 721.3,1194.5 724.5,1197.5 C727.7,1200.5 732.3,1204.6 735.9,1208.9 C739.5,1213.2 743.7,1220.3 746.1,1223.6 C748.5,1226.9 749.1,1227.4 750.5,1228.8 C751.9,1230.2 753.1,1231.1 754.5,1231.7 C755.9,1232.3 757.2,1232.4 758.6,1232.4 C760.0,1232.4 761.1,1231.9 763.0,1231.6 C764.9,1231.3 765.8,1231.1 770.0,1230.5 C774.2,1229.9 781.0,1228.7 788.2,1228.2 C795.4,1227.7 805.6,1227.8 813.2,1227.5 C820.8,1227.2 830.2,1226.6 833.6,1226.4" fill="none" stroke="rgb(148,32,28)" stroke-width="1.8"/>
<polygon points="821,489.5 835,483 835,496" fill="#f00"/>
<line x1="150.5" y1="53.7" x2="169.3" y2="53.7" stroke="rgb(25,128,78)" stroke-width="1.8"/>
<text x="178.3" y="59.8" font-size="17.5" text-anchor="start" fill="#000" textLength="292.7" lengthAdjust="spacingAndGlyphs">PS75/104-1 δ<tspan font-size="11" dy="-6">13</tspan><tspan dy="6">C</tspan><tspan font-size="13" font-style="italic" dy="4.5">Cib</tspan><tspan dy="-4.5"> (SP AAIW 835 m)</tspan></text>
<line x1="150.5" y1="267.4" x2="169.3" y2="267.4" stroke="rgb(126,42,226)" stroke-width="1.8"/>
<text x="178.3" y="273.0" font-size="17.5" text-anchor="start" fill="#000" textLength="298.3" lengthAdjust="spacingAndGlyphs">PS75/104-1 [CO<tspan font-size="12" dy="4">3</tspan><tspan font-size="11" dy="-10">2-</tspan><tspan dy="6">] (SP AAIW 835 m)</tspan></text>
<line x1="150.5" y1="291.0" x2="169.3" y2="291.0" stroke="rgb(138,140,28)" stroke-width="1.8"/>
<text x="178.3" y="295.4" font-size="17.5" text-anchor="start" fill="#000" textLength="303.8" lengthAdjust="spacingAndGlyphs">RR0503-79 [CO<tspan font-size="12" dy="4">3</tspan><tspan font-size="11" dy="-10">2-</tspan><tspan dy="6">] (SP AAIW 1165 m)</tspan></text>
<line x1="150.5" y1="655.6" x2="169.3" y2="655.6" stroke="rgb(30,138,140)" stroke-width="1.8"/>
<text x="178.3" y="661.6" font-size="17.5" text-anchor="start" fill="#000" textLength="302" lengthAdjust="spacingAndGlyphs">RR0503-83 [CO<tspan font-size="12" dy="4">3</tspan><tspan font-size="11" dy="-10">2-</tspan><tspan dy="6">] (SP CDW 1627 m)</tspan></text>
<line x1="150.5" y1="679.9" x2="169.3" y2="679.9" stroke="rgb(148,32,28)" stroke-width="1.8"/>
<text x="178.3" y="685.4" font-size="17.5" text-anchor="start" fill="#000" textLength="312" lengthAdjust="spacingAndGlyphs">RR0503-125 [CO<tspan font-size="12" dy="4">3</tspan><tspan font-size="11" dy="-10">2-</tspan><tspan dy="6">] (SP CDW 2541 m)</tspan></text>
<line x1="151.0" y1="754.2" x2="169.7" y2="754.2" stroke="rgb(238,158,40)" stroke-width="1.8"/>
<text x="179.0" y="759.8" font-size="17.5" text-anchor="start" fill="#000" textLength="261.5" lengthAdjust="spacingAndGlyphs">Coral δ<tspan font-size="11" dy="-6">11</tspan><tspan dy="6">B (DP CDW 806-823 m)</tspan></text>
<line x1="151.5" y1="949.6" x2="170.0" y2="949.6" stroke="#111" stroke-width="1.8"/>
<text x="180.0" y="956.2" font-size="17.5" text-anchor="start" fill="#000" textLength="195.3" lengthAdjust="spacingAndGlyphs">TN057-13-4 F-Opal (SA)</text>
<line x1="151.2" y1="1183.6" x2="169.7" y2="1183.6" stroke="rgb(28,52,228)" stroke-width="1.8"/>
<text x="179.0" y="1190.1" font-size="18" text-anchor="start" fill="#000" textLength="106.5" lengthAdjust="spacingAndGlyphs">CO<tspan font-size="12.5" dy="5">2 atm</tspan><tspan dy="-5"> splice</tspan></text>
<line x1="151.2" y1="1213.3" x2="169.7" y2="1213.3" stroke="rgb(148,32,28)" stroke-width="1.8"/>
<text x="179.0" y="1218.0" font-size="18" text-anchor="start" fill="#000" textLength="52.5" lengthAdjust="spacingAndGlyphs">δ<tspan font-size="12" dy="-7">13</tspan><tspan dy="7">C</tspan><tspan font-size="12.5" dy="6.5">atm</tspan></text>
<text x="0" y="0" font-size="23" text-anchor="middle" fill="#000" transform="translate(85.9,150.5) rotate(-90)" textLength="99.0" lengthAdjust="spacingAndGlyphs">δ<tspan font-size="11" dy="-8.5">13</tspan><tspan dy="8.5">C</tspan><tspan font-size="12.5" font-style="italic" dy="5.5">Cib</tspan><tspan dy="-5.5"> (‰)</tspan></text>
<text x="0" y="0" font-size="23" text-anchor="middle" fill="#000" transform="translate(893.5,401.2) rotate(90)" textLength="223.6" lengthAdjust="spacingAndGlyphs">[CO<tspan font-size="12.5" dy="4.5">3</tspan><tspan font-size="11.5" dy="-14.5">2-</tspan><tspan dy="10">]</tspan><tspan font-size="12.6" dy="5">intermediate</tspan><tspan dy="-5"> (μmol/kg)</tspan></text>
<text x="0" y="0" font-size="23" text-anchor="middle" fill="#000" transform="translate(86.4,595.8) rotate(-90)" textLength="213.0" lengthAdjust="spacingAndGlyphs">[CO<tspan font-size="12.5" dy="4.5">3</tspan><tspan font-size="11.5" dy="-14.5">2-</tspan><tspan dy="10">]</tspan><tspan font-size="13.2" dy="5">mid-depth</tspan><tspan dy="-5"> (μmol/kg)</tspan></text>
<text x="0" y="0" font-size="23" text-anchor="middle" fill="#000" transform="translate(893.7,818.9) rotate(90)" textLength="78.4" lengthAdjust="spacingAndGlyphs">δ<tspan font-size="12" dy="-8.5">11</tspan><tspan dy="8.5">B (‰)</tspan></text>
<text x="0" y="0" font-size="23" text-anchor="middle" fill="#000" transform="translate(85.6,956.3) rotate(-90)" textLength="182.1" lengthAdjust="spacingAndGlyphs">F Opal (g/cm^2/ka)</text>
<text x="0" y="0" font-size="18" text-anchor="middle" fill="#000" transform="translate(47.7,957.5) rotate(-90)" textLength="153.1" lengthAdjust="spacingAndGlyphs">Upwelling intensity</text>
<text x="0" y="0" font-size="23" text-anchor="middle" fill="#000" transform="translate(86.3,1271.8) rotate(-90)" textLength="124.7" lengthAdjust="spacingAndGlyphs">CO<tspan font-size="11.5" dy="5">2 atm</tspan><tspan dy="-5"> (ppm)</tspan></text>
<text x="0" y="0" font-size="23" text-anchor="middle" fill="#000" transform="translate(893.3,1290.4) rotate(90)" textLength="99.7" lengthAdjust="spacingAndGlyphs">δ<tspan font-size="11.5" dy="-8.5">13</tspan><tspan dy="8.5">C</tspan><tspan font-size="13" dy="5">atm</tspan><tspan dy="-5"> (‰)</tspan></text>
<text x="447.5" y="1497.0" font-size="20.5" text-anchor="start" fill="#000" textLength="84" lengthAdjust="spacingAndGlyphs">Age (kyr)</text>
<text x="19.0" y="64.6" font-size="32" text-anchor="start" fill="#000" class="pl">a</text>
<text x="921.0" y="244.6" font-size="32" text-anchor="start" fill="#000" class="pl">b</text>
<text x="17.8" y="460.9" font-size="32" text-anchor="start" fill="#000" class="pl">c</text>
<text x="919.5" y="709.8" font-size="32" text-anchor="start" fill="#000" class="pl">d</text>
<text x="20.0" y="848.4" font-size="32" text-anchor="start" fill="#000" class="pl">e</text>
<text x="921.8" y="1094.3" font-size="32" text-anchor="start" fill="#000" class="pl">f</text>
<text x="256.8" y="27.4" font-size="17.5" text-anchor="start" fill="#000" textLength="79" lengthAdjust="spacingAndGlyphs">Holocene</text>
<text x="566.8" y="27.4" font-size="17.5" text-anchor="start" fill="#000" textLength="76.5" lengthAdjust="spacingAndGlyphs">Deglacial</text>
<text x="754.9" y="27.4" font-size="17.5" text-anchor="start" fill="#000" >LGM</text>
<text x="511.0" y="49.6" font-size="18" text-anchor="start" fill="#000" class="inb">P II</text>
<text x="642.5" y="49.6" font-size="18" text-anchor="start" fill="#000" class="inb">P I</text>
<line x1="495.0" y1="21.3" x2="564.5" y2="21.3" stroke="#222" stroke-width="1.25"/>
<line x1="645.0" y1="21.3" x2="709.0" y2="21.3" stroke="#222" stroke-width="1.25"/>
<line x1="495.6" y1="18.3" x2="495.6" y2="24.3" stroke="#222" stroke-width="1.1"/>
<line x1="708.6" y1="18.3" x2="708.6" y2="24.3" stroke="#222" stroke-width="1.1"/>
<text x="943.8" y="745.0" font-size="17" text-anchor="middle" fill="#000" textLength="37.5" lengthAdjust="spacingAndGlyphs">High</text>
<text x="943.5" y="763.0" font-size="17" text-anchor="middle" fill="#000" >pH</text>
<text x="944.3" y="900.4" font-size="17" text-anchor="middle" fill="#000" textLength="33.5" lengthAdjust="spacingAndGlyphs">Low</text>
<text x="943.5" y="920.0" font-size="17" text-anchor="middle" fill="#000" >pH</text>
<line x1="13.4" y1="1018" x2="13.4" y2="910" stroke="#000" stroke-width="3" stroke-linecap="round"/>
<path d="M13.4,897.6 Q16.7,906.3 23,915 L13.4,911.6 L3.7,915 Q10.1,906.3 13.4,897.6Z" fill="#000"/>
</svg></body></html>
